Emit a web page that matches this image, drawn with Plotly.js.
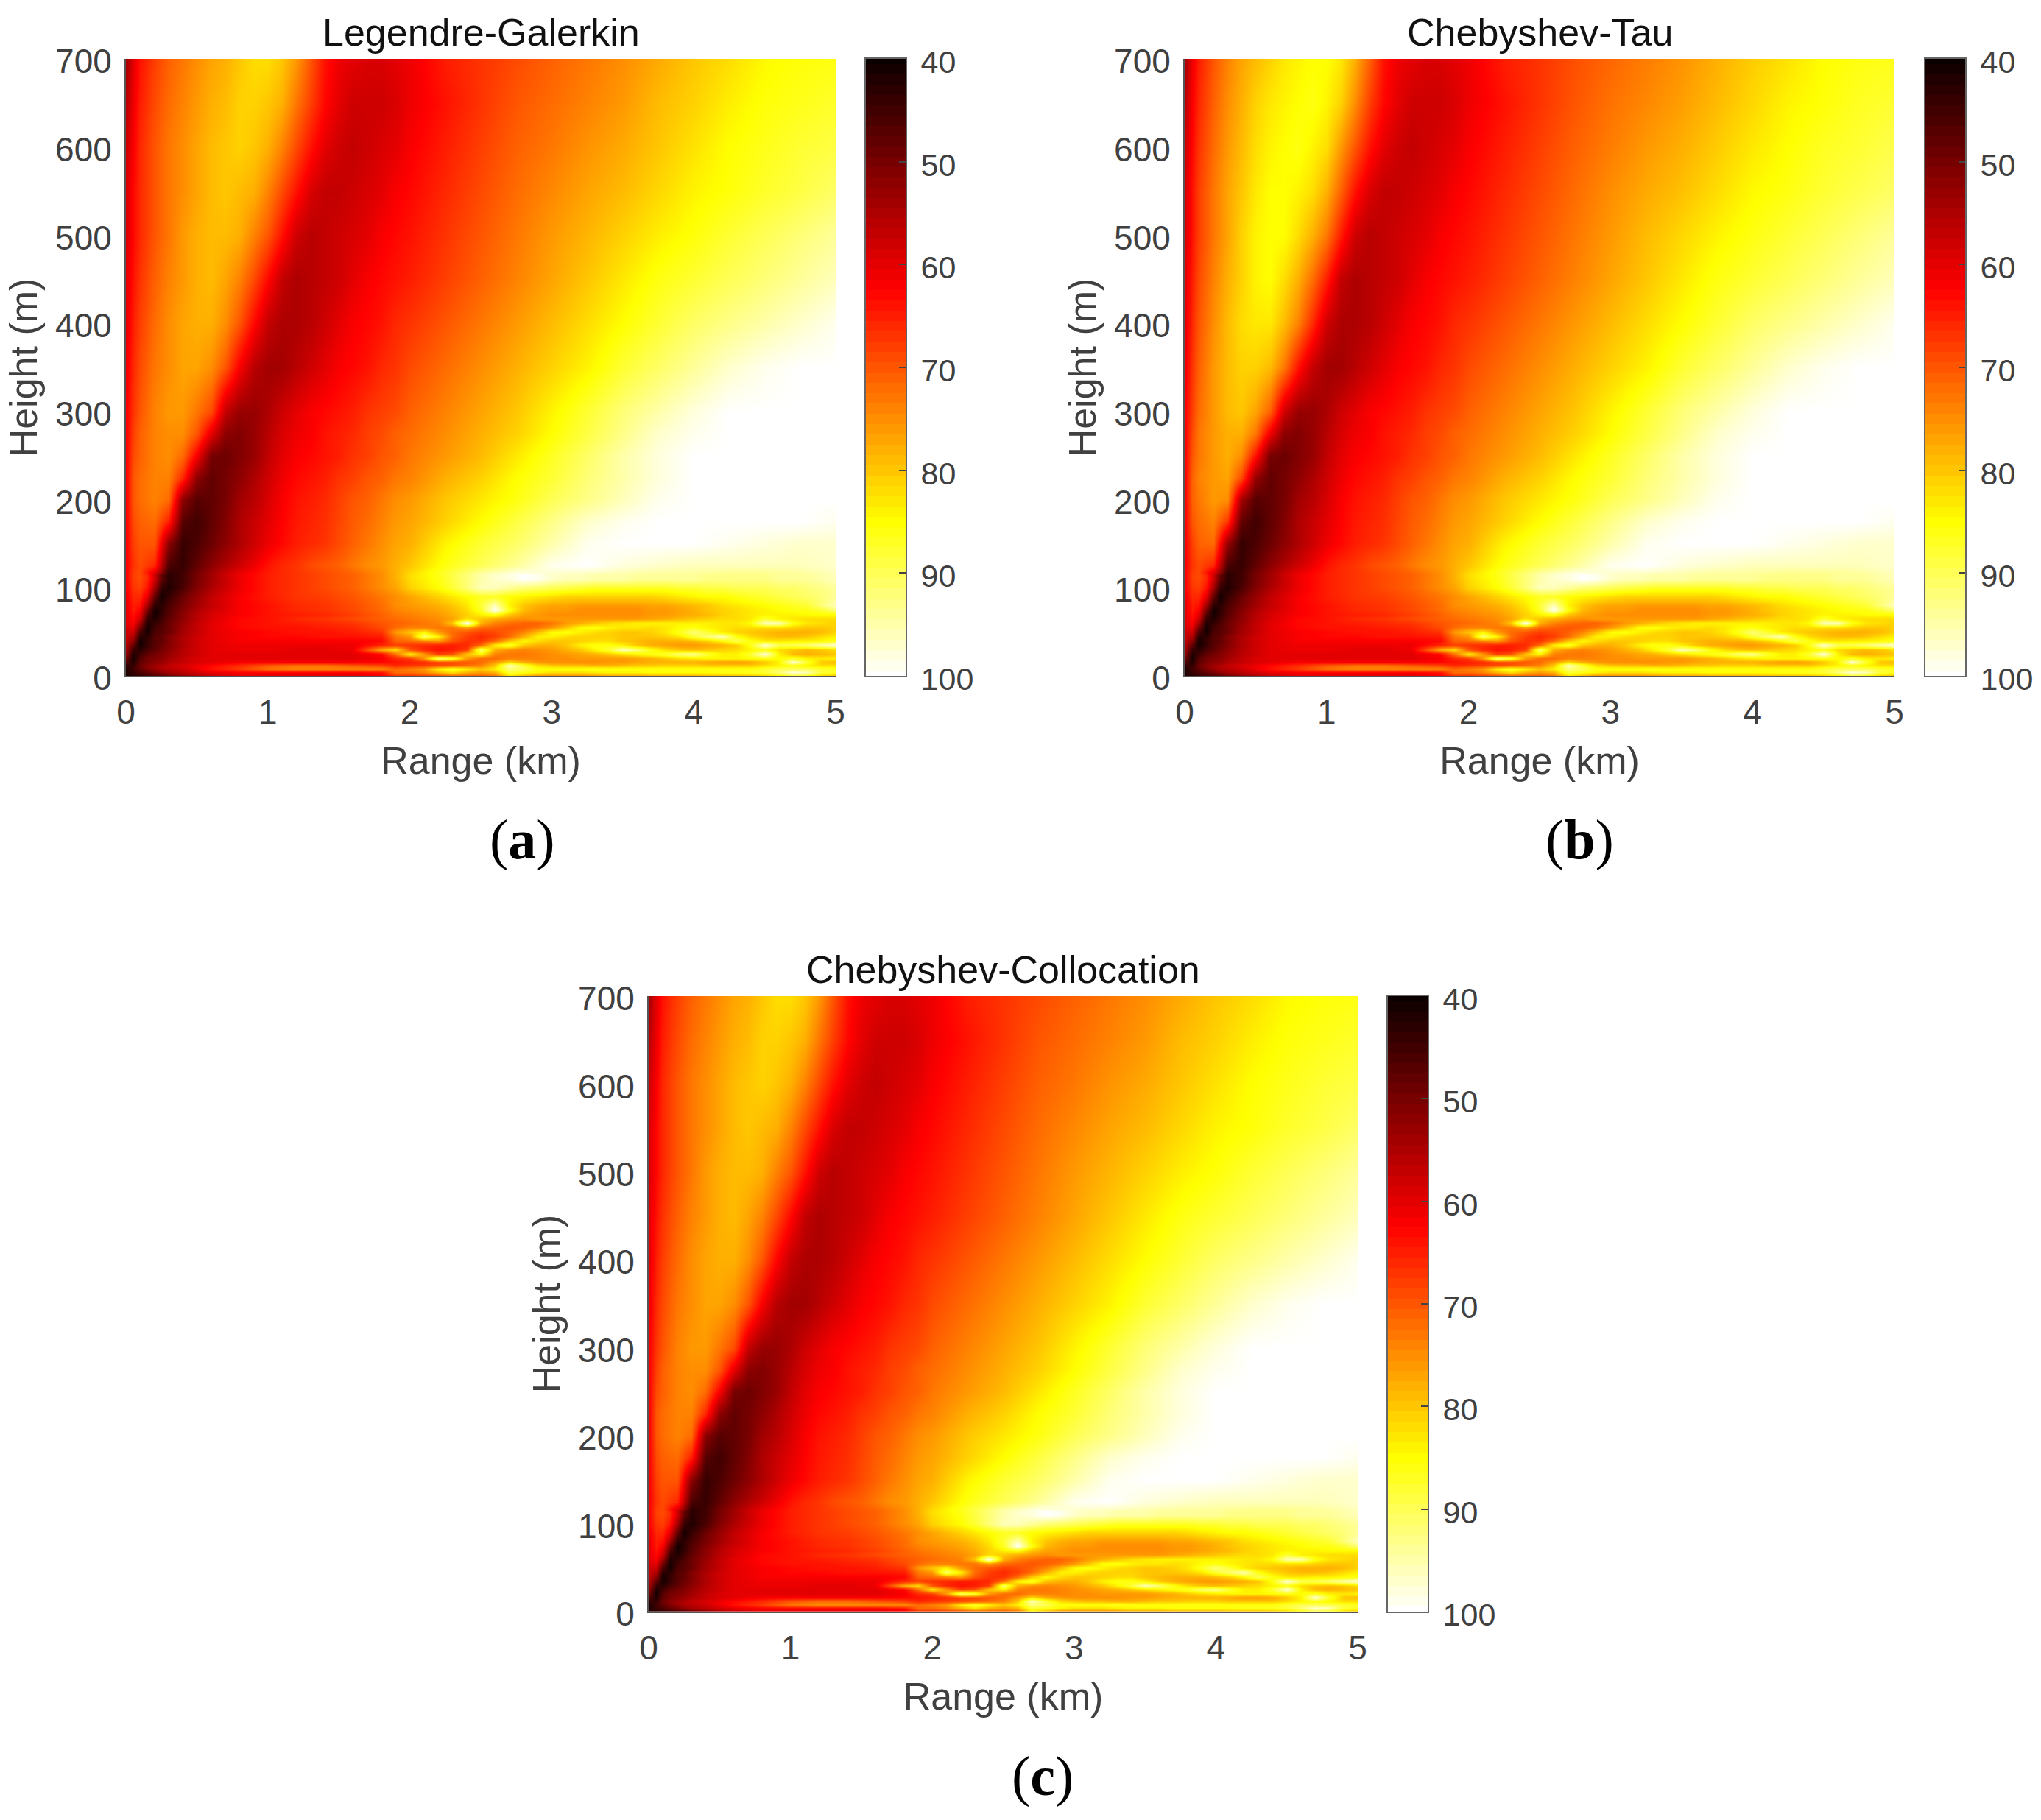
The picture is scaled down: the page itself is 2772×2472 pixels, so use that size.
<!DOCTYPE html>
<html>
<head>
<meta charset="utf-8">
<script src="https://cdn.plot.ly/plotly-3.0.1.min.js"></script>
<style>body{margin:0;background:#fff}</style>
</head>
<body>
<div id="chart" style="width:2772px;height:2472px"></div>
<script>
// values, in dB-like units (40 = black, 100 = white)
const lowX = [0,.05,.1,.15,.2,.25,.3,.4,.5,.6,.8,1,1.2,1.4,1.6,1.8,1.9,2,2.1,2.2,2.3,2.4,2.5,2.6,2.7,2.8,2.9,3,3.1,3.2,3.3,3.4,3.5,3.6,3.7,3.8,3.9,4,4.1,4.2,4.3,4.4,4.5,4.6,4.7,4.8,4.9,5];
const lowY = [0,4,8,12,16,20,25,30,35,40,45,50,55,60,65,70,75,80,90,100,110];
const lowZ = [
[42,43,44,45,46,47,49,52,55,57,60,60,60,60,60,62,66,66,67,68,70,70,70,72,82,78,74,74,74,74,75,76,76,76,77,77,77,77,78,78,78,78,80,82,86,84,80,78],
[42,44,46,48,50,52,54,56,58,60,62,62,62,62,62,64,72,72,74,78,82,78,76,78,88,86,84,82,82,82,83,84,84,84,85,85,85,85,85,86,86,87,88,92,98,96,88,87],
[42,45,48,51,53,55,56,58,61,64,68,73,75,75,75,75,72,74,76,84,88,84,80,84,92,90,86,86,86,86,87,86,86,86,86,86,86,86,86,86,86,86,88,90,90,90,88,87],
[44,44,49,52,54,55,57,59,61,63,66,70,72,72,70,68,66,67,68,69,70,72,74,80,96,88,82,80,79,79,78,78,79,80,80,81,81,81,80,80,80,80,82,84,86,84,82,82],
[47,42,48,50,52,53,55,57,59,60,62,62,62,62,62,63,64,65,66,68,69,70,72,76,82,78,76,75,75,75,75,76,76,77,78,78,78,78,77,76,76,77,80,84,98,88,80,79],
[50,41,47,50,51,52,54,57,59,60,60,60,60,60,60,62,66,68,76,92,88,76,72,72,74,74,74,75,75,76,76,76,76,77,78,80,82,83,84,84,84,85,86,85,87,84,83,84],
[53,42,45,48,50,51,53,56,58,60,60,60,60,60,60,63,72,84,76,68,70,80,84,74,73,73,74,75,76,77,78,80,82,84,86,88,92,94,88,84,84,88,98,84,79,78,79,80],
[55,44,43,46,48,50,52,56,58,60,61,61,60,60,61,78,82,70,66,64,65,68,92,78,75,74,75,76,78,80,84,88,96,92,86,82,80,79,80,81,82,84,86,82,80,79,80,82],
[56,48,41,44,47,49,51,55,58,60,61,61,61,61,61,66,68,67,66,65,65,66,72,84,88,80,78,78,80,84,86,86,84,80,78,77,76,76,77,78,80,86,98,90,90,92,95,98],
[57,52,41,44,47,48,51,55,58,60,62,62,62,62,62,63,71,72,74,76,70,67,67,72,80,85,82,80,80,81,82,82,80,79,78,78,78,79,81,85,90,86,83,83,84,84,85,86],
[58,55,43,43,47,48,51,55,58,60,62,63,63,64,64,65,73,76,92,84,72,68,66,68,72,78,84,84,82,81,81,81,80,80,80,81,83,88,92,96,86,82,80,79,79,80,82,84],
[58,58,46,41,46,47,49,54,57,60,62,63,64,64,65,67,76,80,84,76,72,70,68,69,71,74,79,85,86,84,82,81,80,80,81,83,87,92,88,83,81,80,79,78,78,78,79,81],
[59,60,50,41,45,47,49,54,57,60,63,64,64,65,66,69,72,74,74,73,73,76,72,71,70,71,73,76,80,85,86,84,83,83,82,83,85,86,84,83,82,82,82,82,81,80,80,81],
[60,62,54,42,44,46,49,53,57,60,63,64,65,66,67,70,71,72,73,74,80,100,78,74,72,71,71,73,76,78,80,82,83,84,84,84,84,84,84,83,83,85,96,96,86,83,82,81],
[60,63,58,44,42,45,48,52,56,59,63,64,66,67,69,71,72,73,74,75,77,82,80,78,76,75,76,76,76,76,76,76,76,76,77,78,79,80,81,82,82,83,88,84,83,82,82,82],
[60,64,60,47,41,44,47,52,56,59,62,64,65,66,68,71,73,74,75,76,78,81,84,86,80,77,76,75,75,75,75,75,75,75,76,76,77,78,79,81,82,83,84,84,84,85,85,85],
[60,65,62,50,41,43,47,51,55,58,62,64,66,67,69,72,74,75,76,77,79,82,87,100,86,79,77,76,76,75,75,75,75,75,76,76,77,78,80,81,82,83,84,85,86,86,88,92],
[60,65,64,54,43,43,46,50,54,57,62,64,66,67,69,72,75,76,77,78,80,83,88,96,84,80,78,77,77,76,76,76,76,76,77,77,78,79,80,82,83,84,85,86,87,88,92,96],
[61,66,66,60,48,41,44,49,53,57,62,65,67,68,70,73,75,77,79,81,83,85,87,87,85,84,83,82,81,81,81,81,81,81,81,82,83,84,85,85,86,87,88,89,90,91,92,94],
[62,67,68,64,54,44,42,46,51,55,61,65,67,69,71,75,77,81,83,85,88,92,96,96,94,92,91,90,89,88,87,87,87,87,87,87,88,88,89,89,90,90,90,91,91,92,93,94],
[62,68,69,66,58,48,43,45,50,54,61,65,67,69,71,75,78,82,84,86,89,92,95,97,98,100,99,97,96,96,95,95,95,94,94,94,94,94,93,93,93,93,93,94,94,94,95,96]
];

const upX = [0,.05,.1,.2,.3,.4,.5,.6,.7,.8,.9,1,1.1,1.2,1.3,1.4,1.5,1.6,1.7,1.8,1.9,2,2.25,2.5,2.75,3,3.25,3.5,3.75,4,4.25,4.5,4.75,5];
const upY = [115,125,150,175,200,225,250,275,300,350,400,450,500,550,600,650,700];
// panels (a) and (c) are the same to the eye up here
const upZA = [
[62,68,69,58,43,45,50,54,58,61,63,65,66,67,68,69,70,71,73,75,78,82,88,95,99,97,96,95,94,94,93,93,94,96],
[62,67,69,66,46,44,48,52,55,58,61,64,66,67,69,70,71,73,75,76,78,80,86,90,94,99,100,98,97,96,96,96,96,97],
[62,68,70,70,52,44,46,49,52,55,58,61,63,65,66,67,69,71,73,75,77,78,84,88,91,95,99,100,100,100,99,98,97,97],
[62,69,71,72,65,47,45,48,51,55,57.5,60,62.5,64.5,65.5,66.5,68.5,70.5,72,74,76,77,81,85,89,93,97,99,100,100,100,100,100,99],
[62,70,72,74,72,52,47,48,50,54,56,59,62,64,65,66,68,70,71,73,75,76,80,83,86,90,93,96,99,100,100,100,100,100],
[62,70,72,74,74,66,52,48,50,52,55,58,61,63,64,65,67,68,70,71,73,74,78,81,85,88,92,95,98,100,100,100,100,100],
[62,69,71,74,75,72,62,50,49,51,53,57,60,62,63,64,65,67,68,70,71,73,76,79,83,87,91,95,98,100,100,100,100,100],
[62,68,71,74,75,75,70,60,52,51,53,56,59,61,62,64,65,66,68,69,71,72,75,78,81,85,89,93,97,99,100,100,100,100],
[62,67,70,74,76,76,73,69,57,53,53,55,58,60,62,63,64,65,67,68,69,71,74,77,80,84,88,92,95,98,100,100,100,100],
[61,66,69,73,75,77,77,75,70,62,56,54,54,56,58,60,62,63,64,66,67,69,72,75,78,81,84,88,91,94,97,99,100,100],
[60,65,68,72,75,77,78,78,75,70,63,57,55,55,56,58,60,62,63,64,66,67,70,73,76,79,82,85,88,91,93,95,97,99],
[60,64,67,71,74,76,78,79,77,74,69,63,57,55,56,57,58,60,62,63,64,65,68,71,74,77,80,83,86,88,90,92,94,96],
[59,63,66,70,73,76,78,79,79,78,74,70,64,58,56,57,58,59,60,62,63,64,67,70,73,76,78.5,81,83.5,85.5,88,90,92,94],
[59,63,66,70,73,75,77,79,80,79,78,74,69,64,59,57,57,58,59,60,62,63,66,69,72,74.5,77,79,81.5,84,85.5,87.5,89,91],
[58,62,66,70,73,75,77,79,80,81,80,78,74,69,64,60,58,57,58,59,60,62,65,68,71,73,75.5,77.5,80,82.5,85,86.5,88,89],
[56,61,65,69,72,74,76,78,79,81,81,80,78,73,68,63,60,58,58,58,59,61,64,67,70,72,74,76,79,81,83.5,85.5,86.5,87.5],
[54,60,64,68,71,73,75,77,78,80,82,82,80,76,70,64,61,60,59,59,60,61,65,67,69,71,73,75,77.5,80,82,84.5,85.5,86]
];
// panel (b): brighter lobe near the left edge
const upZB = [
[62,68,69,58,43,45,50,54,58,61,63,65,66,67,68,69,70,71,73,75,78,82,88,95,99,97,96,95,94,94,93,93,94,96],
[62,67,69,66,46,44,48,52,55,58,61,64,66,67,69,70,71,73,75,76,78,80,86,90,94,99,100,98,97,96,96,96,96,97],
[62,68,71,72,53,44,46,49,52,55,58,61,63,65,66,67,69,71,73,75,77,78,84,88,91,95,99,100,100,100,99,98,97,97],
[62,70,72,74,67,48,45,48,51,55,57.5,60,62.5,64.5,65.5,66.5,68.5,70.5,72,74,76,77,81,85,89,93,97,99,100,100,100,100,100,99],
[62,71,73,76,75,54,47,48,50,54,56,59,62,64,65,66,68,70,71,73,75,76,80,83,86,90,93,96,99,100,100,100,100,100],
[62,71,74,76,77,69,53,48,50,52,55,58,61,63,64,65,67,68,70,71,73,74,78,81,85,88,92,95,98,100,100,100,100,100],
[62,70,73,76,78,75,64,50,49,51,53,57,60,62,63,64,65,67,68,70,71,73,76,79,83,87,91,95,98,100,100,100,100,100],
[62,69,73,76,78,78,73,61,52,51,53,56,59,61,62,64,65,66,68,69,71,72,75,78,81,85,89,93,97,99,100,100,100,100],
[62,68,72,76,79,80,77,71,58,53,53,55,58,60,62,63,64,65,67,68,69,71,74,77,80,84,88,92,95,98,100,100,100,100],
[61,67,71,76,79,81,81,79,73,64,57,54,54,56,58,60,62,63,64,66,67,69,72,75,78,81,84,88,91,94,97,99,100,100],
[60,66,70,75,79,82,83,83,79,74,66,58,55,55,56,58,60,62,63,64,66,67,70,73,76,79,82,85,88,91,93,95,97,99],
[60,65,69,74,78,81,84,85,82,78,72,65,57,55,56,57,58,60,62,63,64,65,68,71,74,77,80,83,86,88,90,92,94,96],
[59,64,68,73,77,81,84,85,85,82,78,73,65,58,56,57,58,59,60,62,63,64,67,70,73,76,79,81.5,84,86,88,90,92,94],
[59,64,68,73,77,80,83,85,85,84,82,78,71,64,59,57,57,58,59,60,62,63,66,69,72,75,77.5,79.5,82,84.5,86,88,89.5,91],
[58,63,67,72,76,79,82,84,85,86,84,82,76,70,64,60,58,57,58,59,60,62,65,68,71,73.5,76,78,80.5,83,85,87,88,89.5],
[56,62,66,71,75,78,81,83,84,85,86,84,81,75,68,63,60,58,58,58,59,61,64,67,70,72.5,74.5,76.5,79,81.5,84,85.5,87,88],
[54,61,65,70,74,77,79,81,83,84,85,85,83,78,71,64,61,60,59,59,60,61,65,67,69.5,71.5,73.5,75.5,78,80.5,82.5,85,86,86.5]
];

// colour bar steps, top to bottom
const barLevels = [40,41,42,43,44,45,46,47,48,49,50,51,52,53,54,55,56,57,58,59,60,61,62,63,64,65,66,67,68,69,70,71,72,73,74,75,76,77,78,79,80,81,82,83,84,85,86,87,88,89,90,91,92,93,94,95,96,97,98,99,100];
const barTicks = [40,50,60,70,80,90,100];

const panelNames = ["Legendre-Galerkin", "Chebyshev-Tau", "Chebyshev-Collocation"];
const panelLetters = ["a", "b", "c"];
const heightTicks = [0,100,200,300,400,500,600,700];
const rangeTicks = [0,1,2,3,4,5];

const W = 2772, H = 2472;
// MATLAB hot
const hot = [[0,"#0a0000"],[0.375,"#ff0000"],[0.75,"#ffff00"],[1,"#ffffff"]];
const sans = "Liberation Sans, Arial, sans-serif";
const tickFont = { family: sans, size: 46, color: "#404040" };
const barFont = { family: sans, size: 43, color: "#404040" };
const labelFont = { family: sans, size: 52, color: "#404040" };

// plot box and colour bar box in page pixels
const boxes = [
  { x0: 171, x1: 1135, y0: 80, y1: 918, b0: 1176, b1: 1230, lx: 709, ly: 1140 },
  { x0: 1609, x1: 2573, y0: 80, y1: 918, b0: 2615, b1: 2669, lx: 2145, ly: 1140 },
  { x0: 881, x1: 1844, y0: 1353, y1: 2189, b0: 1885, b1: 1939, lx: 1416, ly: 2412 }
];
const upperByPanel = [upZA, upZB, upZA];

const traces = [];
const layout = {
  width: W, height: H,
  margin: { l: 0, r: 0, t: 0, b: 0 },
  paper_bgcolor: "#fff",
  plot_bgcolor: "#fff",
  showlegend: false,
  annotations: []
};

boxes.forEach((b, i) => {
  const n = i * 2 + 1;
  const xm = "x" + n, ym = "y" + n, xc = "x" + (n + 1), yc = "y" + (n + 1);
  const heat = { type: "heatmap", xaxis: xm, yaxis: ym, zmin: 40, zmax: 100, colorscale: hot, zsmooth: "best", showscale: false };
  traces.push(Object.assign({ x: upX, y: upY, z: upperByPanel[i] }, heat));
  traces.push(Object.assign({ x: lowX, y: lowY, z: lowZ }, heat));
  traces.push({
    type: "heatmap", xaxis: xc, yaxis: yc, x: [0], y: barLevels, z: barLevels.map(v => [v]),
    zmin: 40, zmax: 100, colorscale: hot, showscale: false
  });

  layout["xaxis" + n] = {
    domain: [b.x0 / W, b.x1 / W], range: [0, 5], anchor: ym, tickvals: rangeTicks,
    ticks: "", showgrid: false, zeroline: false, showline: true, linecolor: "#555", linewidth: 2,
    tickfont: tickFont, ticklabelstandoff: 8, layer: "above traces",
    title: { text: "Range (km)", font: labelFont, standoff: 22 }
  };
  layout["yaxis" + n] = {
    domain: [1 - b.y1 / H, 1 - b.y0 / H], range: [0, 700], anchor: xm, tickvals: heightTicks,
    ticks: "", showgrid: false, zeroline: false, showline: true, linecolor: "#555", linewidth: 2,
    tickfont: tickFont, ticklabelstandoff: 8, ticklabelshift: 3, layer: "above traces",
    title: { text: "Height (m)", font: labelFont, standoff: 8 }
  };
  layout["xaxis" + (n + 1)] = {
    domain: [b.b0 / W, b.b1 / W], range: [-0.5, 0.5], anchor: yc, showticklabels: false,
    ticks: "", showgrid: false, zeroline: false, showline: true, mirror: true, linecolor: "#666", linewidth: 2
  };
  layout["yaxis" + (n + 1)] = {
    domain: [1 - b.y1 / H, 1 - b.y0 / H], range: [100, 40], anchor: xc, side: "right", tickvals: barTicks,
    ticks: "inside", ticklen: 9, tickwidth: 2, tickcolor: "#444", showgrid: false, zeroline: false,
    showline: true, mirror: true, linecolor: "#666", linewidth: 2, tickfont: barFont, ticklabelstandoff: 10, ticklabelshift: -4
  };

  layout.annotations.push({
    xref: "paper", yref: "paper", x: (b.x0 + b.x1) / 2 / W, y: 1 - (b.y0 - 36) / H,
    text: panelNames[i], showarrow: false, xanchor: "center", yanchor: "middle",
    font: { family: sans, size: 52, color: "#111" }
  });
  layout.annotations.push({
    xref: "paper", yref: "paper", x: b.lx / W, y: 1 - b.ly / H,
    text: "(<b>" + panelLetters[i] + "</b>)", showarrow: false, xanchor: "center", yanchor: "middle",
    font: { family: "Liberation Serif, serif", size: 76, color: "#000" }
  });
});

Plotly.newPlot("chart", traces, layout, { displayModeBar: false, responsive: false });
</script>
</body>
</html>
